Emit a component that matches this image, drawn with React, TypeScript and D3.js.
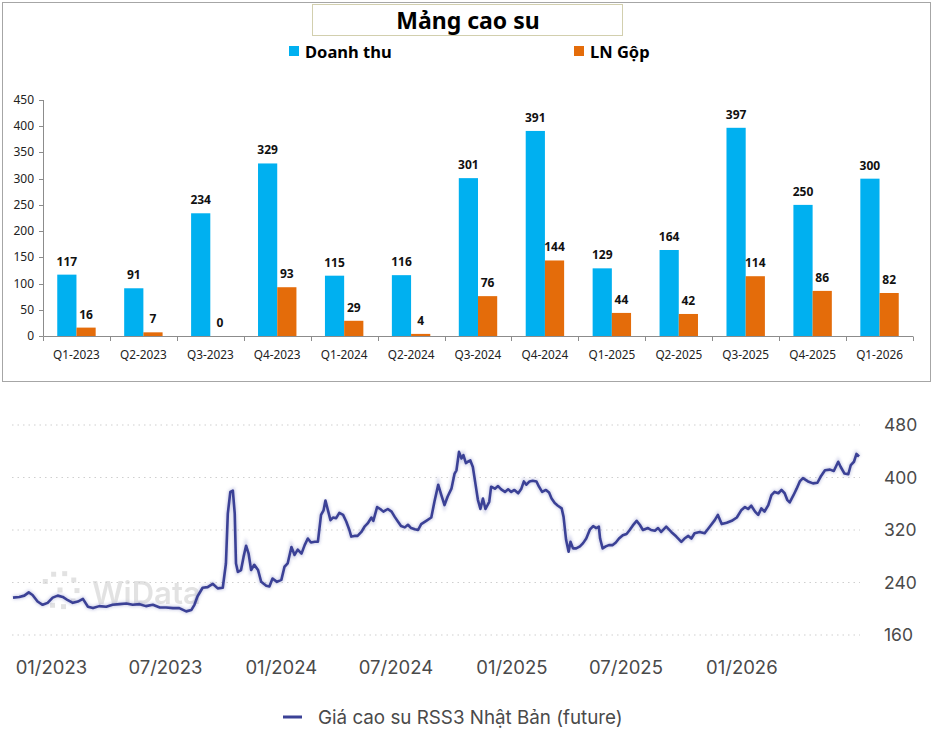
import React from 'react';
import * as d3 from 'd3';

// quarterly rubber segment (billion VND)
const quarters = ['Q1-2023', 'Q2-2023', 'Q3-2023', 'Q4-2023', 'Q1-2024', 'Q2-2024', 'Q3-2024',
  'Q4-2024', 'Q1-2025', 'Q2-2025', 'Q3-2025', 'Q4-2025', 'Q1-2026'];
const revenue = [117, 91, 234, 329, 115, 116, 301, 391, 129, 164, 397, 250, 300];
const grossProfit = [16, 7, 0, 93, 29, 4, 76, 144, 44, 42, 114, 86, 82];
const seriesNames = ['Doanh thu', 'LN Gộp'];
const seriesColors = ['#00b0f0', '#e46c0a'];

// RSS3 Japan futures price
const priceDates = [
  '2022-11-01', '2022-11-11', '2022-11-19', '2022-11-26', '2022-12-02', '2022-12-10', '2022-12-18', '2022-12-26',
  '2023-01-03', '2023-01-11', '2023-01-19', '2023-01-27', '2023-02-04', '2023-02-12', '2023-02-20', '2023-02-28',
  '2023-03-08', '2023-03-18', '2023-03-29', '2023-04-08', '2023-04-19', '2023-04-30', '2023-05-10', '2023-05-21',
  '2023-05-31', '2023-06-11', '2023-06-22', '2023-07-02', '2023-07-13', '2023-07-23', '2023-08-03', '2023-08-11',
  '2023-08-16', '2023-08-21', '2023-08-29', '2023-09-06', '2023-09-14', '2023-09-22', '2023-09-30', '2023-10-05',
  '2023-10-08', '2023-10-12', '2023-10-16', '2023-10-19', '2023-10-21', '2023-10-24', '2023-10-29', '2023-11-02',
  '2023-11-06', '2023-11-10', '2023-11-14', '2023-11-19', '2023-11-25', '2023-11-30', '2023-12-08', '2023-12-13',
  '2023-12-18', '2023-12-25', '2024-01-01', '2024-01-06', '2024-01-11', '2024-01-17', '2024-01-22', '2024-01-27',
  '2024-02-02', '2024-02-07', '2024-02-12', '2024-02-17', '2024-02-23', '2024-02-28', '2024-03-04', '2024-03-08',
  '2024-03-11', '2024-03-15', '2024-03-19', '2024-03-23', '2024-03-28', '2024-04-02', '2024-04-08', '2024-04-13',
  '2024-04-18', '2024-04-21', '2024-04-26', '2024-05-01', '2024-05-07', '2024-05-12', '2024-05-17', '2024-05-23',
  '2024-05-26', '2024-06-01', '2024-06-06', '2024-06-11', '2024-06-18', '2024-06-24', '2024-06-29', '2024-07-04',
  '2024-07-09', '2024-07-15', '2024-07-20', '2024-07-25', '2024-07-31', '2024-08-05', '2024-08-10', '2024-08-18',
  '2024-08-26', '2024-08-31', '2024-09-06', '2024-09-11', '2024-09-16', '2024-09-21', '2024-09-27', '2024-10-02',
  '2024-10-05', '2024-10-09', '2024-10-13', '2024-10-16', '2024-10-20', '2024-10-23', '2024-10-27', '2024-10-31',
  '2024-11-04', '2024-11-08', '2024-11-12', '2024-11-16', '2024-11-20', '2024-11-26', '2024-11-29', '2024-12-05',
  '2024-12-10', '2024-12-15', '2024-12-21', '2024-12-26', '2024-12-31', '2025-01-05', '2025-01-11', '2025-01-16',
  '2025-01-20', '2025-01-24', '2025-01-29', '2025-02-03', '2025-02-09', '2025-02-13', '2025-02-18', '2025-02-24',
  '2025-03-01', '2025-03-05', '2025-03-10', '2025-03-15', '2025-03-21', '2025-03-24', '2025-03-28', '2025-04-01',
  '2025-04-04', '2025-04-08', '2025-04-13', '2025-04-19', '2025-04-24', '2025-04-29', '2025-05-05', '2025-05-10',
  '2025-05-15', '2025-05-19', '2025-05-21', '2025-05-25', '2025-05-30', '2025-06-04', '2025-06-10', '2025-06-15',
  '2025-06-20', '2025-06-26', '2025-07-02', '2025-07-07', '2025-07-12', '2025-07-18', '2025-07-23', '2025-07-28',
  '2025-08-05', '2025-08-10', '2025-08-16', '2025-08-21', '2025-08-26', '2025-09-03', '2025-09-11', '2025-09-19',
  '2025-09-27', '2025-10-02', '2025-10-08', '2025-10-13', '2025-10-18', '2025-10-26', '2025-11-03', '2025-11-11',
  '2025-11-19', '2025-11-24', '2025-11-30', '2025-12-08', '2025-12-16', '2025-12-24', '2025-12-31', '2026-01-06',
  '2026-01-11', '2026-01-16', '2026-01-22', '2026-01-27', '2026-02-01', '2026-02-06', '2026-02-12', '2026-02-17',
  '2026-02-22', '2026-02-28', '2026-03-05', '2026-03-10', '2026-03-14', '2026-03-18', '2026-03-24', '2026-03-29',
  '2026-04-03', '2026-04-08', '2026-04-16', '2026-04-24', '2026-05-01', '2026-05-06', '2026-05-13', '2026-05-21',
  '2026-05-27', '2026-06-03', '2026-06-07', '2026-06-13', '2026-06-19', '2026-06-23', '2026-06-28', '2026-07-02',
  '2026-07-06',
];
const priceValues = [
  217, 218, 220, 225, 221, 211, 206, 209,
  217, 220, 218, 213, 209, 211, 215, 203,
  201, 204, 203, 206, 207, 208, 206, 207,
  204, 206, 202, 202, 201, 201, 196, 198,
  206, 219, 232, 233, 238, 231, 232, 269,
  345, 378, 380, 345, 269, 256, 259, 279,
  296, 284, 259, 267, 259, 241, 235, 234,
  246, 241, 244, 264, 269, 294, 282, 290,
  284, 297, 307, 301, 302, 302, 343, 350,
  365, 350, 335, 339, 338, 346, 343, 333,
  320, 310, 311, 311, 317, 325, 330, 339,
  334, 355, 352, 348, 352, 348, 340, 333,
  326, 324, 328, 323, 321, 320, 329, 334,
  339, 363, 389, 373, 358, 371, 383, 406,
  411, 439, 429, 434, 422, 424, 426, 416,
  391, 366, 352, 368, 352, 363, 386, 383,
  387, 382, 378, 382, 378, 381, 376, 383,
  394, 389, 394, 395, 394, 386, 378, 381,
  377, 368, 361, 357, 353, 340, 305, 287,
  302, 292, 292, 295, 300, 307, 321, 326,
  323, 325, 307, 292, 295, 297, 297, 301,
  307, 312, 314, 320, 327, 334, 328, 320,
  323, 320, 319, 323, 317, 325, 317, 310,
  302, 307, 311, 307, 315, 317, 315, 325,
  335, 343, 329, 331, 334, 339, 350, 355,
  352, 357, 348, 343, 353, 348, 358, 373,
  378, 376, 381, 376, 366, 362, 373, 383,
  394, 399, 394, 391, 392, 401, 411, 412,
  410, 424, 416, 406, 405, 419, 424, 436,
  432,
];
const priceTicks = [160, 240, 320, 400, 480];
const monthTicks = ['2023-01-01', '2023-07-01', '2024-01-01', '2024-07-01', '2025-01-01', '2025-07-01', '2026-01-01'];
const priceLegend = 'Giá cao su RSS3 Nhật Bản (future)';

const W = 940;
const H = 736;
const excelFont = '"Noto Sans", "Open Sans", sans-serif';
const webFont = 'Inter, Roboto, sans-serif';

const parseDate = d3.timeParse('%Y-%m-%d');

function BarPanel() {
  const x0 = d3.scaleBand<string>().domain(quarters).range([43, 913]);
  const bw = x0.bandwidth();
  const x1 = d3.scaleBand<number>().domain([0, 1]).range([bw * 0.213, bw * 0.787]);
  const y = d3.scaleLinear().domain([0, 450]).range([336, 100]);
  const yTicks = d3.range(0, 451, 50);
  const series = [revenue, grossProfit];

  return (
    <g>
      <rect x={2.5} y={2.5} width={928} height={379} fill="#fff" stroke="#a6a6a6" />
      <rect x={312.5} y={4.5} width={310} height={31} fill="#fff" stroke="#d2cfae" />
      <text x={468} y={28.5} textAnchor="middle" fontFamily={excelFont} fontWeight={700} fontSize={23} fill="#000">
        Mảng cao su
      </text>

      {seriesNames.map((name, i) => {
        const lx = i === 0 ? 289 : 574;
        return (
          <g key={name}>
            <rect x={lx} y={46} width={10} height={10} fill={seriesColors[i]} />
            <text x={lx + 16} y={57.5} fontFamily={excelFont} fontWeight={700} fontSize={16.5} fill="#000">
              {name}
            </text>
          </g>
        );
      })}

      {/* y axis */}
      <line x1={43.5} x2={43.5} y1={y(450)} y2={y(0)} stroke="#8c8c8c" />
      {yTicks.map((t) => (
        <g key={t}>
          <line x1={39} x2={43.5} y1={Math.round(y(t)) + 0.5} y2={Math.round(y(t)) + 0.5} stroke="#8c8c8c" />
          <text x={34} y={y(t) + 4} textAnchor="end" fontFamily={excelFont} fontSize={12} fill="#222">
            {t}
          </text>
        </g>
      ))}

      {/* bars */}
      {quarters.map((q, i) => (
        <g key={q} transform={`translate(${x0(q)},0)`}>
          {series.map((s, k) => (
            <g key={k}>
              <rect x={x1(k)} y={y(s[i])} width={x1.bandwidth()} height={y(0) - y(s[i])} fill={seriesColors[k]} />
              <text
                x={(x1(k) as number) + x1.bandwidth() / 2}
                y={y(s[i]) - 9}
                textAnchor="middle"
                fontFamily={excelFont}
                fontWeight={700}
                fontSize={12}
                fill="#111"
              >
                {s[i]}
              </text>
            </g>
          ))}
        </g>
      ))}

      {/* x axis */}
      <line x1={43.5} x2={913} y1={336.5} y2={336.5} stroke="#8c8c8c" />
      {quarters.concat(['']).map((q, i) => {
        const xx = Math.round(43 + i * bw) + 0.5;
        return <line key={'t' + i} x1={xx} x2={xx} y1={336.5} y2={341} stroke="#8c8c8c" />;
      })}
      {quarters.map((q) => (
        <text
          key={'l' + q}
          x={(x0(q) as number) + bw / 2}
          y={359}
          textAnchor="middle"
          fontFamily={excelFont}
          fontSize={11.8}
          fill="#222"
        >
          {q}
        </text>
      ))}
    </g>
  );
}

function PricePanel() {
  const dates = priceDates.map((d) => parseDate(d) as Date);
  const x = d3.scaleTime().domain([dates[0], dates[dates.length - 1]]).range([13, 859]);
  const y = d3.scaleLinear().domain([160, 480]).range([635, 425]);
  const line = d3
    .line<number>()
    .x((_, i) => x(dates[i]))
    .y((v) => y(v))
    .curve(d3.curveLinear);
  const path = line(priceValues) || '';
  const fmt = d3.timeFormat('%m/%Y');

  // watermark dots arranged on an open ring
  const ring = d3.range(8).map((k) => {
    const a = (-150 + k * 38) * (Math.PI / 180);
    return [60 + 17 * Math.cos(a), 590 + 17 * Math.sin(a)];
  });

  return (
    <g>
      <defs>
        <filter id="halo" x="-5%" y="-20%" width="110%" height="140%">
          <feGaussianBlur stdDeviation="1.6" />
        </filter>
      </defs>

      {priceTicks.map((t) => (
        <g key={t}>
          <line x1={12} x2={860} y1={y(t)} y2={y(t)} stroke="#cfcfcf" strokeDasharray="1.5 4" />
          <text x={884} y={y(t) + 6} fontFamily={webFont} fontSize={17.5} fill="#4a4a4a">
            {t}
          </text>
        </g>
      ))}

      <g opacity={0.6}>
        {ring.map(([cx, cy], k) => (
          <rect key={k} x={cx - 2.5} y={cy - 2.5} width={5} height={5} fill="#d0d0d0" />
        ))}
        <rect x={57.5} y={587.5} width={5} height={5} fill="#d0d0d0" />
        <text x={92} y={604} fontFamily={webFont} fontSize={31} fontWeight={600} fill="#d0d0d0">
          WiData
        </text>
      </g>

      <path d={path} fill="none" stroke="#8a8fc8" strokeWidth={4.5} opacity={0.4} filter="url(#halo)" />
      <path d={path} fill="none" stroke="#3b4196" strokeWidth={2.6} strokeLinejoin="round" />

      {monthTicks.map((m) => {
        const d = parseDate(m) as Date;
        return (
          <text key={m} x={x(d)} y={674} textAnchor="middle" fontFamily={webFont} fontSize={18.5} fill="#4a4a4a">
            {fmt(d)}
          </text>
        );
      })}

      <line x1={283} x2={302} y1={717} y2={717} stroke="#3b4196" strokeWidth={3} />
      <text x={318} y={723.5} fontFamily={webFont} fontSize={18.8} fill="#4a4a4a">
        {priceLegend}
      </text>
    </g>
  );
}

export default function App() {
  return (
    <div style={{ position: 'absolute', left: 0, top: 0, width: W, height: H, background: '#fff' }}>
      <svg width={W} height={H} viewBox={`0 0 ${W} ${H}`} style={{ display: 'block' }}>
        <rect width={W} height={H} fill="#fff" />
        <BarPanel />
        <PricePanel />
      </svg>
    </div>
  );
}
